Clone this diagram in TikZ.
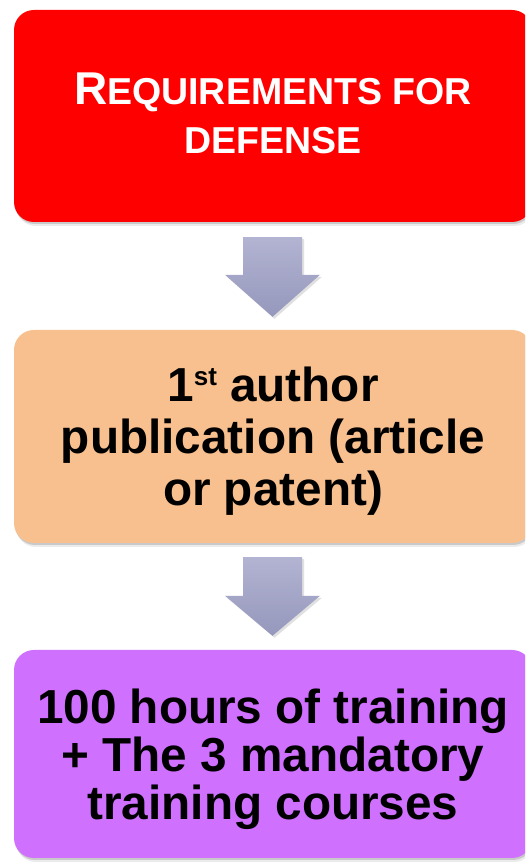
\documentclass[tikz,border=0pt]{standalone}
\usepackage{fontspec}
\setmainfont{Liberation Sans}
\usetikzlibrary{shadows,calc}
\definecolor{boxred}{HTML}{FF0000}
\definecolor{boxorange}{HTML}{F9C08F}
\definecolor{boxpurple}{HTML}{CF70FF}
\definecolor{arrtop}{HTML}{B3B4D2}
\definecolor{arrbot}{HTML}{9597BC}
\tikzset{
  stepbox/.style={rounded corners=20pt, minimum width=518pt, minimum height=#1,
    inner sep=0pt, align=center,
    drop shadow={shadow xshift=1pt, shadow yshift=-2pt, opacity=0.14, fill=black},
    drop shadow={shadow xshift=2pt, shadow yshift=-4pt, opacity=0.08, fill=black}},
  arrowshade/.style={top color=arrtop, bottom color=arrbot,
    drop shadow={shadow xshift=2pt, shadow yshift=-2pt, opacity=0.12, fill=black}}
}
\begin{document}
\begin{tikzpicture}[x=1pt,y=1pt]
\useasboundingbox (0,0) rectangle (525,862);
\clip (0,0) rectangle (525,862);
\fill[white] (0,0) rectangle (525,862);
\node[stepbox=212pt, fill=boxred, text=white, text depth=6pt,
  font={\bfseries\fontsize{37.5}{49}\selectfont}] (req) at (273,746)
  {{\fontsize{46}{49}\selectfont R}EQUIREMENTS FOR\\DEFENSE};
\node[stepbox=213pt, fill=boxorange, text=black, text depth=0pt,
  font={\bfseries\fontsize{47.7}{52}\selectfont}] (pub) at (273,425.5)
  {1\raisebox{16pt}{\bfseries\fontsize{26}{26}\selectfont st} author\\publication (article\\or patent)};
\node[stepbox=208pt, fill=boxpurple, text=black, text depth=0pt,
  font={\bfseries\fontsize{47.7}{48}\selectfont}] (trn) at (273,108)
  {100 hours of training\\+ The 3 mandatory\\training courses};
\path[arrowshade] let \p1=($(req.south)+(-0.5,-15)$), \p2=($(pub.north)+(-0.5,13)$) in
  (\x1-29.5,\y1) -- (\x1+29.5,\y1) -- (\x1+29.5,\y2+42) -- (\x1+47.5,\y2+42)
  -- (\x1,\y2) -- (\x1-47.5,\y2+42) -- (\x1-29.5,\y2+42) -- cycle;
\path[arrowshade] let \p1=($(pub.south)+(-0.5,-14)$), \p2=($(trn.north)+(-0.5,14)$) in
  (\x1-29.5,\y1) -- (\x1+29.5,\y1) -- (\x1+29.5,\y2+40) -- (\x1+47.5,\y2+40)
  -- (\x1,\y2) -- (\x1-47.5,\y2+40) -- (\x1-29.5,\y2+40) -- cycle;
\end{tikzpicture}
\end{document}
